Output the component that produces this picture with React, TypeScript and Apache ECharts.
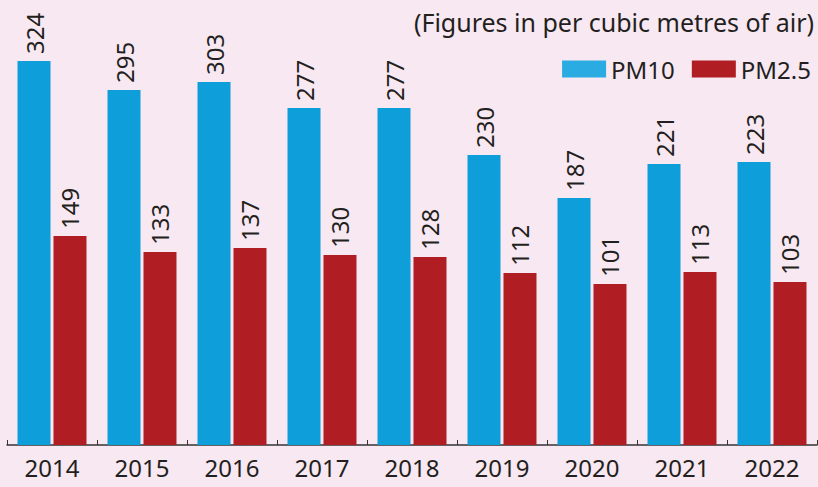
import React, { useEffect, useRef } from "react";
import * as echarts from "echarts";

const years = ["2014", "2015", "2016", "2017", "2018", "2019", "2020", "2021", "2022"];
const pm10 = [324, 295, 303, 277, 277, 230, 187, 221, 223];
const pm25 = [149, 133, 137, 130, 128, 112, 101, 113, 103];
// the chart's value scale does not start at zero: every bar rises from this offset
const axisOffset = [60, 60, 60, 60, 60, 60, 60, 60, 60];

const BG = "#F8E8F2";
const BLUE = "#0E9ED9";
const BLUE_LEGEND = "#2AACE2";
const RED = "#B01E24";
const TEXT = "#231F20";
const FONT = "Noto Sans";

export default function App() {
  const ref = useRef<HTMLDivElement>(null);
  useEffect(() => {
    document.body.style.margin = "0";
    document.body.style.background = BG;
    const chart = echarts.init(ref.current!, null, { renderer: "svg" });
    const label = {
      show: true,
      position: "top",
      rotate: 90,
      align: "left",
      verticalAlign: "middle",
      distance: 7,
      color: TEXT,
      fontSize: 24,
      fontFamily: FONT,
    };
    chart.setOption({
      animation: false,
      backgroundColor: BG,
      textStyle: { fontFamily: FONT },
      grid: { left: 7, right: 1, top: 5, bottom: 42, containLabel: false },
      graphic: [
        {
          type: "text",
          right: 4,
          top: 9,
          style: {
            text: "(Figures in per cubic metres of air)",
            fill: TEXT,
            fontSize: 25,
            fontFamily: FONT,
          },
        },
      ],
      legend: {
        right: 2,
        top: 52,
        icon: "rect",
        itemWidth: 44,
        itemHeight: 17,
        itemGap: 17,
        textStyle: { color: TEXT, fontSize: 24, fontFamily: FONT },
        data: [
          { name: "PM10", itemStyle: { color: BLUE_LEGEND } },
          { name: "PM2.5", itemStyle: { color: RED } },
        ],
      },
      xAxis: {
        type: "category",
        data: years,
        axisLine: { lineStyle: { color: "#333", width: 1.5 } },
        axisTick: { show: true, inside: true, length: 5, lineStyle: { color: "#333" } },
        axisLabel: { color: TEXT, fontSize: 24, fontFamily: FONT, margin: 10 },
      },
      yAxis: {
        type: "value",
        min: 0,
        max: 440,
        show: false,
        splitLine: { show: false },
      },
      series: [
        {
          name: "PM10-base",
          type: "bar",
          stack: "a",
          data: axisOffset,
          barWidth: 33,
          barGap: "9%",
          itemStyle: { color: BLUE },
          silent: true,
        },
        {
          name: "PM10",
          type: "bar",
          stack: "a",
          data: pm10,
          barWidth: 33,
          barGap: "9%",
          itemStyle: { color: BLUE },
          label,
        },
        {
          name: "PM2.5-base",
          type: "bar",
          stack: "b",
          data: axisOffset,
          barWidth: 33,
          barGap: "9%",
          itemStyle: { color: RED },
          silent: true,
        },
        {
          name: "PM2.5",
          type: "bar",
          stack: "b",
          data: pm25,
          barWidth: 33,
          barGap: "9%",
          itemStyle: { color: RED },
          label,
        },
      ],
    });
    return () => chart.dispose();
  }, []);
  return (
    <div
      ref={ref}
      style={{ position: "absolute", left: 0, top: 0, width: 818, height: 487, background: BG }}
    />
  );
}
